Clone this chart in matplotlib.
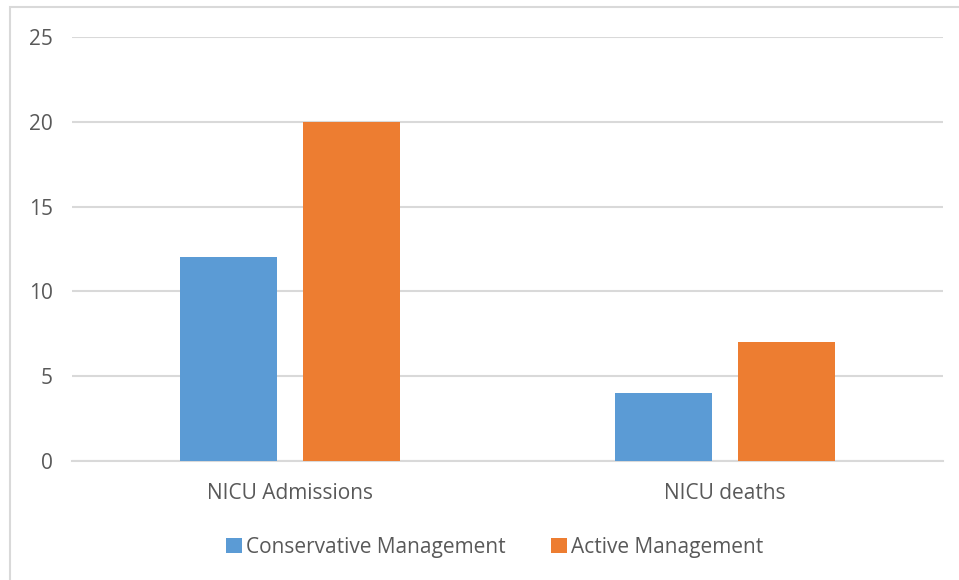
import matplotlib.pyplot as plt
import numpy as np
from matplotlib.patches import Rectangle

categories = ['NICU Admissions', 'NICU deaths']
conservative = [12, 4]
active = [20, 7]
series_names = ['Conservative Management', 'Active Management']

blue = '#5B9BD5'
orange = '#ED7D31'
grid_c = '#D9D9D9'
text_c = '#595959'

plt.rcParams['font.family'] = ['Open Sans', 'DejaVu Sans']

fig = plt.figure(figsize=(9.59, 5.80), dpi=100)
ax = fig.add_axes([0.0751, 0.2052, 0.9082, 0.7310])

# light frame around the chart area
fig.patches.append(Rectangle((10 / 959, -0.05), 1.1, 1 - 7 / 580 + 0.05,
                             transform=fig.transFigure, fill=False,
                             edgecolor='#D9D9D9', linewidth=1.5))

x = np.arange(len(categories))
w = 0.223
off = 0.1415
ax.bar(x - off, conservative, w, color=blue, label=series_names[0], zorder=3)
ax.bar(x + off, active, w, color=orange, label=series_names[1], zorder=3)

ax.set_xlim(-0.5, 1.5)
ax.set_ylim(0, 25)
ax.set_yticks(range(0, 26, 5))
ax.yaxis.grid(True, color=grid_c, linewidth=1.5, zorder=0)
ax.set_axisbelow(True)
for s in ['top', 'right', 'left']:
    ax.spines[s].set_visible(False)
ax.spines['bottom'].set_color(grid_c)
ax.spines['bottom'].set_linewidth(1.5)
ax.tick_params(axis='both', length=0, colors=text_c, labelsize=15)
ax.tick_params(axis='y', pad=14)
ax.tick_params(axis='x', pad=16)
ax.set_xticks(x)
ax.set_xticklabels(categories)

leg = fig.legend(loc='center', bbox_to_anchor=(0.516, 1 - 547 / 580), ncol=2,
                 frameon=False, fontsize=15, handlelength=0.75, handleheight=0.75,
                 handletextpad=0.2, columnspacing=2.2, labelcolor=text_c)

fig.savefig('out.png', dpi=100)
